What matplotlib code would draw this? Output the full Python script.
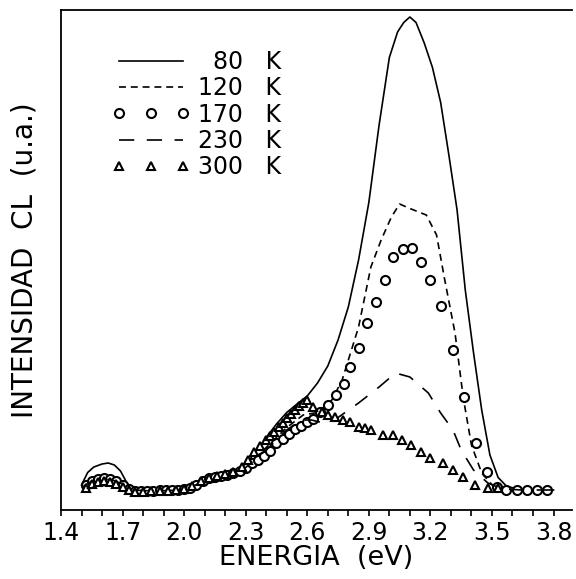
import matplotlib
matplotlib.use("Agg")
import matplotlib.pyplot as plt
from matplotlib.ticker import MultipleLocator, FixedLocator

plt.rcParams['font.family'] = ['DejaVu Sans']
plt.rcParams['lines.scale_dashes'] = False

# ---- data ----
e80 = [1.50, 1.53, 1.56, 1.60, 1.63, 1.66, 1.69, 1.72, 1.75, 1.80, 1.90, 2.00, 2.05, 2.10,
       2.15, 2.20, 2.25, 2.30, 2.35, 2.40, 2.45, 2.50, 2.55, 2.60, 2.65, 2.70, 2.75, 2.80,
       2.85, 2.90, 2.95, 3.00, 3.04, 3.07, 3.10, 3.13, 3.17, 3.21, 3.25, 3.29, 3.33, 3.37,
       3.41, 3.45, 3.49, 3.53, 3.57, 3.62, 3.70, 3.80]
i80 = [5.0, 7.5, 8.6, 9.2, 9.4, 9.0, 7.8, 5.5, 4.0, 3.6, 3.8, 4.2, 4.8, 6.2,
       7.0, 7.2, 7.6, 9.0, 11.8, 14.5, 17.2, 19.5, 21.2, 22.8, 25.4, 28.8, 34.0, 40.6,
       50.0, 61.5, 77.0, 90.5, 95.6, 97.5, 98.6, 97.5, 93.4, 88.5, 81.5, 71.0, 60.0, 44.0,
       31.5, 20.0, 11.0, 6.5, 4.8, 4.2, 4.0, 4.0]

e120 = [1.50, 1.55, 1.60, 1.65, 1.70, 1.75, 1.85, 2.00, 2.10, 2.20, 2.30, 2.40, 2.50, 2.58,
        2.65, 2.72, 2.77, 2.85, 2.91, 2.96, 3.01, 3.05, 3.10, 3.18, 3.23, 3.27, 3.32, 3.36,
        3.40, 3.45, 3.51, 3.60, 3.70, 3.80]
i120 = [4.8, 6.5, 7.0, 6.8, 5.8, 4.2, 3.8, 4.0, 6.0, 6.8, 8.6, 12.5, 16.5, 19.0,
        19.5, 22.0, 26.0, 36.6, 48.6, 54.0, 58.6, 61.2, 60.3, 59.0, 55.0, 46.0, 35.4, 22.5,
        13.0, 7.4, 4.6, 4.0, 4.0, 4.0]

e170 = [1.52, 1.55, 1.58, 1.61, 1.64, 1.67, 1.70, 1.73, 1.76, 1.79, 1.82, 1.85, 1.88, 1.91,
        1.94, 1.97, 2.00, 2.03, 2.06, 2.09, 2.12, 2.15, 2.18, 2.21, 2.24, 2.27, 2.30, 2.33,
        2.36, 2.39, 2.42, 2.45, 2.48, 2.51, 2.54, 2.57, 2.60, 2.63, 2.66, 2.70, 2.74, 2.78,
        2.81, 2.85, 2.89, 2.935, 2.978, 3.017, 3.066, 3.11, 3.155, 3.20, 3.25, 3.31, 3.366,
        3.42, 3.478, 3.526, 3.57, 3.62, 3.67, 3.72, 3.77]
i170 = [5.0, 5.8, 6.2, 6.4, 6.3, 5.8, 5.0, 4.2, 3.8, 3.8, 3.9, 3.9, 4.0, 4.0,
        4.0, 4.1, 4.2, 4.4, 5.0, 5.8, 6.4, 6.6, 6.8, 7.0, 7.4, 7.8, 8.4, 9.4,
        10.0, 10.9, 11.9, 13.4, 14.3, 15.3, 16.2, 16.9, 17.6, 18.3, 19.6, 21.0, 23.0, 25.3,
        28.6, 32.4, 37.4, 41.6, 46.0, 50.6, 52.2, 52.4, 49.6, 46.0, 40.8, 32.0, 22.6,
        13.4, 7.6, 4.6, 4.0, 4.0, 4.0, 4.0, 4.0]

e230 = [1.50, 1.55, 1.60, 1.65, 1.70, 1.75, 1.85, 2.00, 2.10, 2.20, 2.30, 2.40, 2.50, 2.57,
        2.62, 2.68, 2.75, 2.85, 2.95, 3.03, 3.10, 3.19, 3.25, 3.31, 3.35, 3.41, 3.48, 3.55,
        3.65, 3.80]
i230 = [4.5, 5.8, 6.2, 6.0, 5.2, 4.0, 3.8, 4.0, 5.8, 6.6, 8.5, 12.0, 16.0, 18.0,
        18.0, 17.4, 18.5, 21.4, 24.6, 27.4, 26.6, 23.4, 19.4, 16.0, 12.0, 8.0, 5.4, 4.2,
        4.0, 4.0]

e300 = [1.52, 1.55, 1.58, 1.61, 1.64, 1.67, 1.70, 1.73, 1.76, 1.80, 1.84, 1.88, 1.92, 1.96,
        2.00, 2.04, 2.08, 2.12, 2.16, 2.20, 2.24, 2.28, 2.31, 2.34, 2.37, 2.40, 2.42, 2.44,
        2.46, 2.48, 2.50, 2.52, 2.54, 2.56, 2.58, 2.60, 2.63, 2.67, 2.70, 2.735, 2.775, 2.81,
        2.85, 2.88, 2.91, 2.97, 3.02, 3.06, 3.105, 3.155, 3.20, 3.26, 3.31, 3.36, 3.415,
        3.48, 3.53]
i300 = [4.5, 5.2, 5.6, 5.8, 5.6, 5.2, 4.6, 4.0, 3.6, 3.6, 3.8, 3.8, 3.8, 4.0,
        4.2, 4.8, 5.8, 6.4, 6.8, 7.2, 7.6, 8.6, 10.0, 11.6, 12.8, 14.0, 14.8, 15.6,
        16.6, 17.4, 18.4, 19.2, 20.0, 20.8, 21.4, 22.0, 20.6, 19.6, 19.0, 18.6, 18.0, 17.6,
        16.6, 16.4, 16.0, 15.0, 15.0, 14.0, 13.0, 11.6, 10.4, 9.4, 8.0, 6.6, 5.0,
        4.4, 4.4]

labels = ['\u200780   K', '120   K', '170   K', '230   K', '300   K']
xticks_major = [1.4, 1.7, 2.0, 2.3, 2.6, 2.9, 3.2, 3.5, 3.8]
xtick_labels = ['1.4', '1.7', '2.0', '2.3', '2.6', '2.9', '3.2', '3.5', '3.8']

# ---- figure ----
fig = plt.figure(figsize=(5.76, 5.79), dpi=100)
ax = fig.add_axes([61 / 576, 69 / 579, 511 / 576, 500 / 579])

lw = 1.2
ax.plot(e80, i80, color='black', lw=lw, label=labels[0])
ax.plot(e120, i120, color='black', lw=lw, dashes=(5, 3.5), label=labels[1])
ax.plot(e170, i170, linestyle='none', marker='o', ms=6.5, mfc='white', mec='black',
        mew=1.5, label=labels[2])
ax.plot(e230, i230, color='black', lw=lw, dashes=(11, 9), label=labels[3])
ax.plot(e300, i300, linestyle='none', marker='^', ms=5.5, mfc='white', mec='black',
        mew=1.5, label=labels[4])

ax.set_xlim(1.4, 3.89)
ax.set_ylim(0, 100)

ax.xaxis.set_major_locator(FixedLocator(xticks_major))
ax.set_xticklabels(xtick_labels)
ax.xaxis.set_minor_locator(MultipleLocator(0.1))
ax.tick_params(axis='x', which='both', direction='out', length=4, width=1.2,
               labelsize=17, pad=4)
ax.set_yticks([])
ax.spines['right'].set_visible(False)
for s in ('left', 'bottom', 'top'):
    ax.spines[s].set_linewidth(1.3)

ax.set_xlabel('ENERGIA  (eV)', fontsize=19.5, labelpad=0)
ax.set_ylabel('INTENSIDAD  CL  (u.a.)', fontsize=20, labelpad=16)

leg = ax.legend(loc='upper left', bbox_to_anchor=(0.1, 0.92), frameon=False,
                fontsize=17, handlelength=3.3, handletextpad=0.35, labelspacing=0.1,
                borderpad=0, borderaxespad=0, numpoints=3)

fig.savefig('out.png', dpi=100)
